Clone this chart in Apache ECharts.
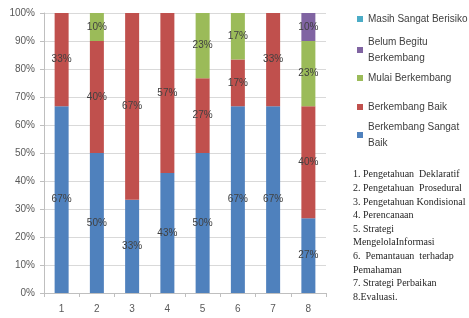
<!DOCTYPE html>
<html>
<head>
<meta charset="utf-8">
<script src="https://cdn.jsdelivr.net/npm/echarts@6/dist/echarts.min.js"></script>
<style>
  html, body { margin: 0; padding: 0; background: #fff; }
  #chart { width: 469px; height: 318px; }
</style>
</head>
<body>
<div id="chart"></div>
<script>
// kategori 1..8
const categories = ['1', '2', '3', '4', '5', '6', '7', '8']
const yTicks = [0, 10, 20, 30, 40, 50, 60, 70, 80, 90, 100]

// persen tiap kategori
const sangatBaik = [66.7, 50, 33.3, 42.9, 50, 66.7, 66.7, 26.7]
const baik = [33.3, 40, 66.7, 57.1, 26.7, 16.7, 33.3, 40]
const mulai = [0, 10, 0, 0, 23.3, 16.7, 0, 23.3]
const belum = [0, 0, 0, 0, 0, 0, 0, 10]
const berisiko = [0, 0, 0, 0, 0, 0, 0, 0]

const seriesNames = ['Berkembang Sangat Baik', 'Berkembang Baik', 'Mulai Berkembang', 'Belum Begitu Berkembang', 'Masih Sangat Berisiko']
const seriesData = [sangatBaik, baik, mulai, belum, berisiko]
const colors = ['#4F81BD', '#C0504D', '#9BBB59', '#8064A2', '#4BACC6']

const notes = [
  '1. Pengetahuan  Deklaratif',
  '2. Pengetahuan  Prosedural',
  '3. Pengetahuan Kondisional',
  '4. Perencanaan',
  '5. Strategi',
  'MengelolaInformasi',
  '6.  Pemantauan  terhadap',
  'Pemahaman',
  '7. Strategi Perbaikan',
  '8.Evaluasi.'
]

const sans = 'Liberation Sans'
const chart = echarts.init(document.getElementById('chart'))

// legend: one component per item so wrapped names sit like the original
const legendPos = [
  { name: 'Masih Sangat Berisiko', cy: 19, wrap: null },
  { name: 'Belum Begitu Berkembang', cy: 50, wrap: 'Belum Begitu\nBerkembang' },
  { name: 'Mulai Berkembang', cy: 78, wrap: null },
  { name: 'Berkembang Baik', cy: 107, wrap: null },
  { name: 'Berkembang Sangat Baik', cy: 135, wrap: 'Berkembang Sangat\nBaik' }
]
const lh = 16
const legends = legendPos.map(it => ({
  orient: 'vertical',
  left: 357,
  top: it.wrap ? it.cy - lh * 1.5 : it.cy - lh / 2,
  padding: 0,
  itemWidth: 6,
  itemHeight: 6,
  itemGap: 0,
  icon: 'rect',
  selectedMode: false,
  formatter: () => it.wrap || it.name,
  textStyle: {
    fontFamily: sans, fontSize: 10, color: '#404040', lineHeight: lh,
    padding: it.wrap ? [lh, 0, 0, 0] : 0
  },
  data: [it.name]
}))

const series = seriesNames.map((name, i) => ({
  name: name,
  type: 'bar',
  stack: 'total',
  barWidth: 14,
  itemStyle: { color: colors[i] },
  label: {
    show: true,
    position: 'inside',
    fontFamily: sans,
    fontSize: 10,
    color: '#404040',
    formatter: p => p.value > 0 ? Math.round(p.value) + '%' : ''
  },
  data: seriesData[i]
}))

chart.setOption({
  animation: false,
  backgroundColor: '#fff',
  color: colors,
  title: {
    text: notes.join('\n'),
    left: 353,
    top: 168,
    padding: 0,
    textStyle: {
      fontFamily: 'Liberation Serif', fontSize: 10, fontWeight: 'normal',
      color: '#262626', lineHeight: 13.6
    }
  },
  legend: legends,
  grid: { left: 44, right: 143, top: 13, bottom: 25 },
  xAxis: {
    type: 'category',
    data: categories,
    axisLine: { lineStyle: { color: '#bfbfbf' } },
    axisTick: { show: true, length: 4, lineStyle: { color: '#bfbfbf' } },
    axisLabel: { fontFamily: sans, fontSize: 10, color: '#595959', margin: 11 }
  },
  yAxis: {
    type: 'value',
    min: yTicks[0],
    max: yTicks[yTicks.length - 1],
    interval: 10,
    axisLine: { show: true, lineStyle: { color: '#bfbfbf' } },
    axisTick: { show: true, length: 4, lineStyle: { color: '#bfbfbf' } },
    splitLine: { lineStyle: { color: '#d9d9d9' } },
    axisLabel: { fontFamily: sans, fontSize: 10, color: '#595959', margin: 9, formatter: '{value}%' }
  },
  series: series
})
</script>
</body>
</html>
